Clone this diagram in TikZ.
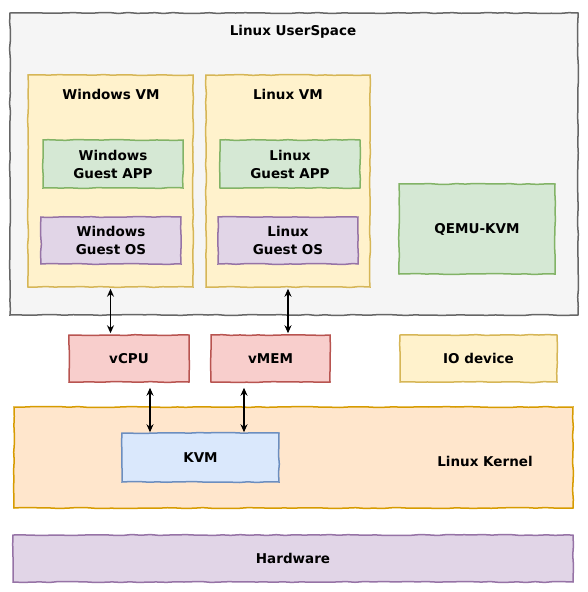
\documentclass[tikz,border=0pt]{standalone}
\usepackage{fontspec}
\setmainfont{DejaVu Sans}
\usetikzlibrary{arrows.meta,decorations.pathmorphing}
\definecolor{usfill}{HTML}{F5F5F5}\definecolor{usline}{HTML}{666666}
\definecolor{yfill}{HTML}{FFF2CC}\definecolor{yline}{HTML}{D6B656}
\definecolor{gfill}{HTML}{D5E8D4}\definecolor{gline}{HTML}{82B366}
\definecolor{pfill}{HTML}{E1D5E7}\definecolor{pline}{HTML}{9673A6}
\definecolor{rfill}{HTML}{F8CECC}\definecolor{rline}{HTML}{B85450}
\definecolor{ofill}{HTML}{FFE6CC}\definecolor{oline}{HTML}{D79B00}
\definecolor{bfill}{HTML}{DAE8FC}\definecolor{bline}{HTML}{6C8EBF}
\tikzset{
  box/.style={draw, line width=1.5pt, inner sep=0pt, align=center,
    font=\bfseries\fontsize{13.5}{18}\selectfont,
    decorate, decoration={random steps, segment length=9pt, amplitude=0.5pt}},
  txt/.style={inner sep=0pt, font=\bfseries\fontsize{13.5}{18}\selectfont},
  usbox/.style={box, fill=usfill, draw=usline},
  ybox/.style={box, fill=yfill, draw=yline},
  gbox/.style={box, fill=gfill, draw=gline},
  pbox/.style={box, fill=pfill, draw=pline},
  rbox/.style={box, fill=rfill, draw=rline},
  obox/.style={box, fill=ofill, draw=oline},
  bbox/.style={box, fill=bfill, draw=bline},
  link/.style={line width=1.2pt, {Stealth[length=8pt,width=7pt]}-{Stealth[length=8pt,width=7pt]}},
}
\pgfmathsetseed{7}
\begin{document}
\begin{tikzpicture}[x=1pt,y=-1pt]
\useasboundingbox[fill=white] (0,0) rectangle (588,592);
% user space
\node[usbox, minimum width=568pt, minimum height=302pt] (us) at (294,164) {};
\node[txt] (usl) at (293,32) {Linux UserSpace};
% VMs
\node[ybox, minimum width=165pt, minimum height=212pt] (winvm) at (110.5,181) {};
\node[txt] (winvml) at (111,94) {Windows VM};
\node[gbox, minimum width=140pt, minimum height=48pt] (winapp) at (113,164) {Windows\\Guest APP};
\node[pbox, minimum width=140pt, minimum height=47pt] (winos) at (111,240.5) {Windows\\Guest OS};
\node[ybox, minimum width=164pt, minimum height=212pt] (linvm) at (288,181) {};
\node[txt] (linvml) at (288,94) {Linux VM};
\node[gbox, minimum width=140pt, minimum height=48pt] (linapp) at (290,164) {Linux\\Guest APP};
\node[pbox, minimum width=140pt, minimum height=47pt] (linos) at (288,240.5) {Linux\\Guest OS};
\node[gbox, minimum width=156pt, minimum height=90pt] (qemu) at (477,229) {QEMU-KVM};
% virtual devices
\node[rbox, minimum width=120pt, minimum height=47pt] (vcpu) at (129,358.5) {vCPU};
\node[rbox, minimum width=119pt, minimum height=47pt] (vmem) at (270.5,358.5) {vMEM};
\node[ybox, minimum width=157pt, minimum height=47pt] (io) at (478.5,358.5) {IO device};
% kernel
\node[obox, minimum width=559pt, minimum height=101pt] (kernel) at (293.5,457.5) {};
\node[txt] (kernell) at (485,461) {Linux Kernel};
\node[bbox, minimum width=157pt, minimum height=49pt] (kvm) at (200.5,457.5) {KVM};
% hardware
\node[pbox, minimum width=560pt, minimum height=47pt] (hw) at (293,558.5) {Hardware};
% connectors
\draw[link, shorten <=1pt, shorten >=1pt] (winvm.south) -- (winvm.south |- vcpu.north);
\draw[link, shorten <=1pt, shorten >=1pt] (linvm.south) -- (linvm.south |- vmem.north);
\draw[link, shorten <=5pt] ([xshift=21pt]vcpu.south) -- ([xshift=21pt]vcpu.south |- kvm.north);
\draw[link, shorten <=5pt] ([xshift=-26.5pt]vmem.south) -- ([xshift=-26.5pt]vmem.south |- kvm.north);
\end{tikzpicture}
\end{document}
